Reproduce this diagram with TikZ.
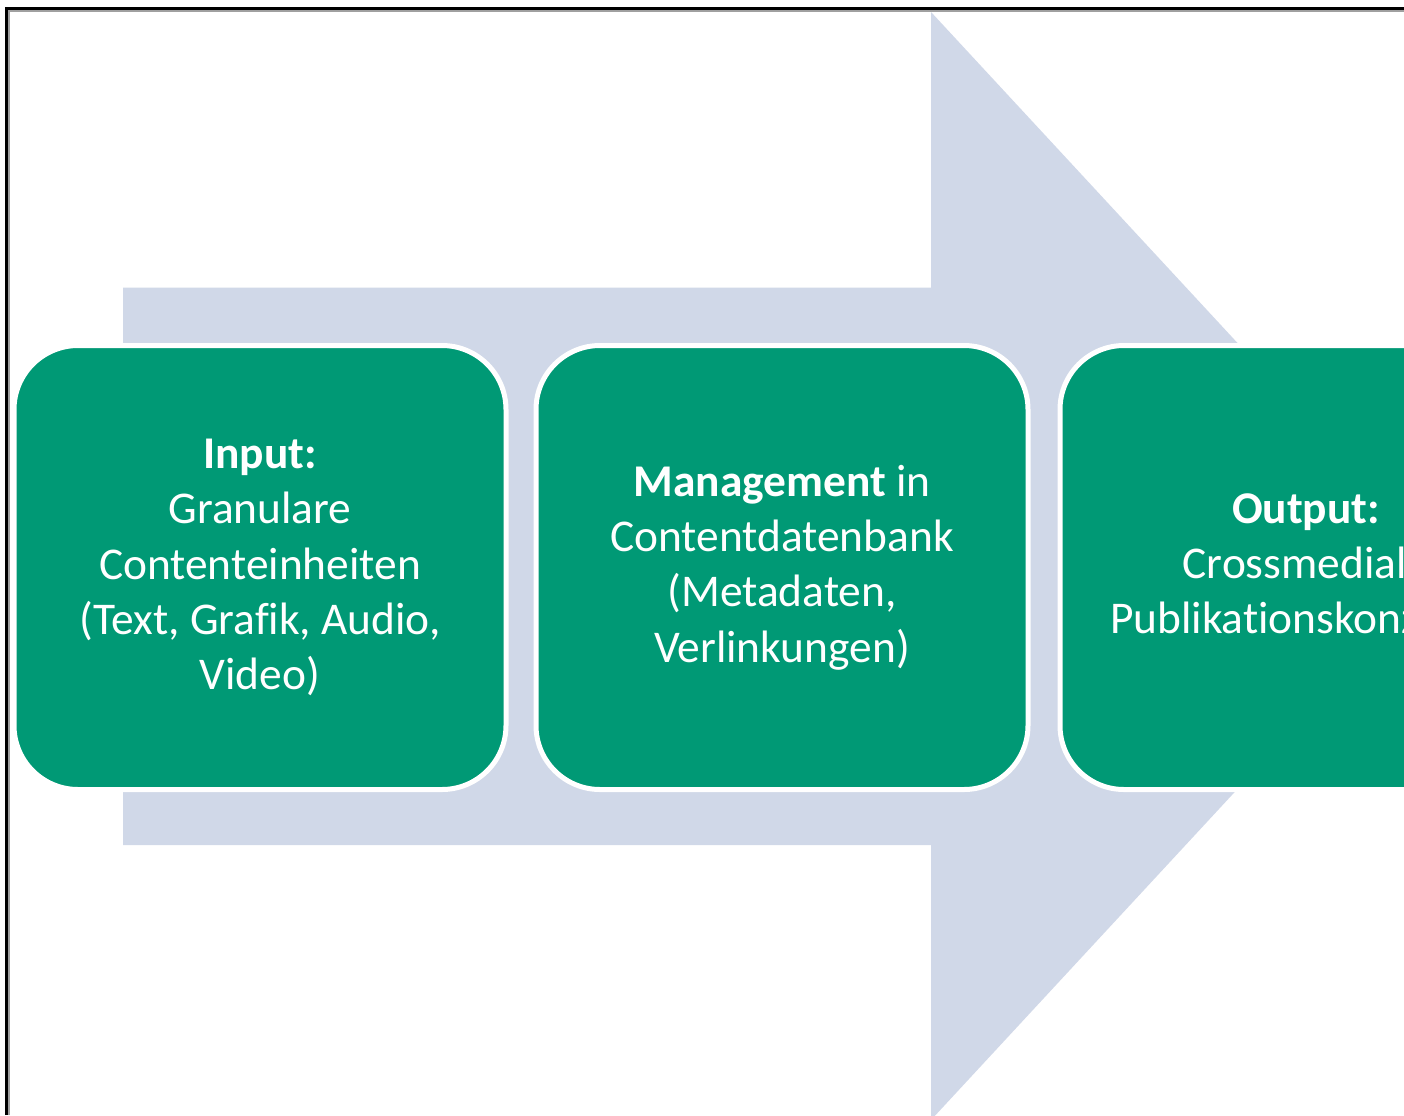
\documentclass[tikz,border=0pt]{standalone}
\usepackage{fontspec}
\setmainfont[Ligatures={NoCommon}]{Carlito}
\definecolor{stepgreen}{RGB}{0,153,117}
\definecolor{flowblue}{RGB}{208,216,232}
\definecolor{framegray}{RGB}{160,160,160}
\begin{document}
\begin{tikzpicture}[x=0.5pt,y=-0.5pt,
  stepbox/.style={draw=white, line width=2.5pt, fill=stepgreen,
    rounded corners=32pt, minimum width=246pt, minimum height=222pt,
    inner sep=0pt, text=white, align=center,
    font=\fontsize{22.7}{27.6}\selectfont},
  flowarrow/.style={fill=flowblue, draw=none},
  frameblack/.style={draw=black, line width=1.5pt},
  framegrey/.style={draw=framegray, line width=1pt}]
  \useasboundingbox (0,0) rectangle (1404,1115);
  \clip (0,0) rectangle (1404,1115);
  \fill[white] (0,0) rectangle (1404,1115);

  % large process arrow in the background
  \fill[flowarrow] (123,287.5) -- (931,287.5) -- (931,12) -- (1444,566)
    -- (931,1120) -- (931,845) -- (123,845) -- cycle;

  % the three process steps
  \node[stepbox] (input) at (260,567.5)
    {\textbf{Input:}\\Granulare\\Contenteinheiten\\(Text, Grafik, Audio,\\Video)};
  \node[stepbox] (manage) at (782,567.5)
    {\textbf{Management} in\\Contentdatenbank\\(Metadaten,\\Verlinkungen)};
  \node[stepbox] (output) at (1306,567.5)
    {\textbf{Output:}\\Crossmediale\\Publikationskonzepte};

  % frame along the top and left edge
  \draw[framegrey] (9,1115) -- (9,11) -- (1404,11);
  \draw[frameblack] (6.5,1115) -- (6.5,8.5) -- (1404,8.5);
\end{tikzpicture}
\end{document}
